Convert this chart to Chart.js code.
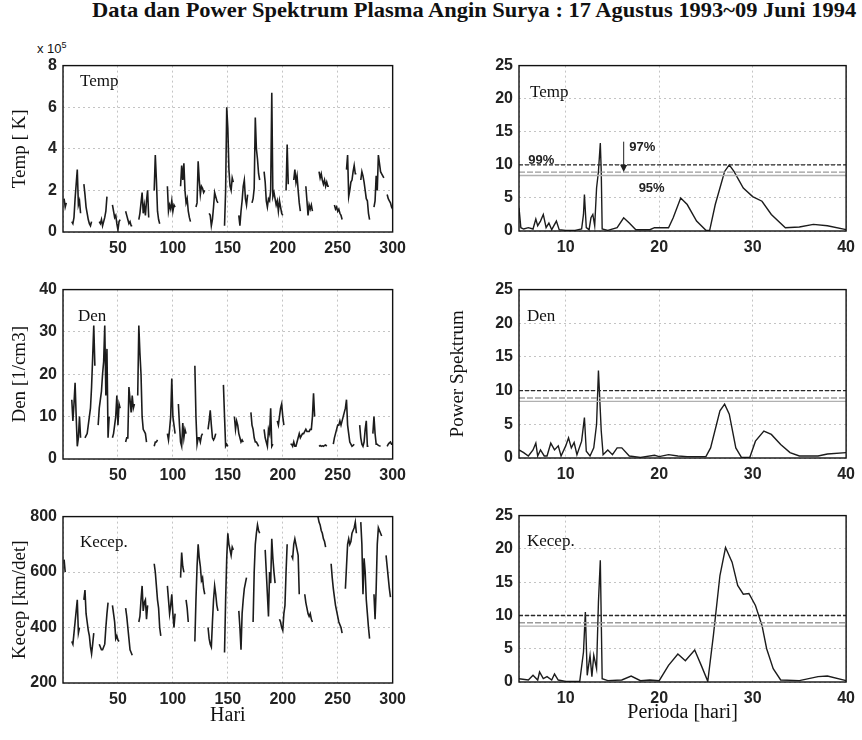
<!DOCTYPE html>
<html>
<head>
<meta charset="utf-8">
<title>Data dan Power Spektrum Plasma Angin Surya</title>
<script src="https://cdn.jsdelivr.net/npm/chart.js@4.4.1/dist/chart.umd.min.js"></script>
<style>
  body { margin: 0; background: #fff; }
  #wadah { position: relative; width: 862px; height: 740px; overflow: hidden; background: #fff; }
  canvas { position: absolute; }
  #judul {
    position: absolute; left: 92px; top: -2px; white-space: nowrap; color: #111;
    font-family: "Liberation Serif", "Times New Roman", serif; font-weight: bold; font-size: 21px;
    transform: scaleX(1.07); transform-origin: left top;
  }
  #pangkat {
    position: absolute; left: 37px; top: 40px; color: #111;
    font-family: "Liberation Sans", Arial, sans-serif; font-size: 13px;
  }
  #pangkat sup { font-size: 9px; }
</style>
</head>
<body>
<div id="wadah">
  <div id="judul">Data dan Power Spektrum Plasma Angin Surya : 17 Agustus 1993~09 Juni 1994</div>
  <div id="pangkat">x 10<sup>5</sup></div>
  <canvas id="temp-hari" width="413" height="210" style="left:0;top:50px"></canvas>
  <canvas id="den-hari" width="413" height="213" style="left:0;top:274px"></canvas>
  <canvas id="kecep-hari" width="413" height="232" style="left:0;top:501px"></canvas>
  <canvas id="temp-spektrum" width="422" height="209" style="left:440px;top:50px"></canvas>
  <canvas id="den-spektrum" width="422" height="212" style="left:440px;top:274px"></canvas>
  <canvas id="kecep-spektrum" width="422" height="232" style="left:440px;top:500px"></canvas>
</div>

<script>
// ---- data deret harian: hari awal tiap potongan + nilai harian ----
// Temp dalam satuan 10^5 K
const tempMulai = [1, 8, 19, 33, 45, 57, 69, 83, 95, 107, 121, 133, 147, 160, 172, 183, 203, 210, 221, 233, 247, 258, 271, 283, 295];
const tempNilai = [
  [1.6, 1.2, 1.4],
  [0.5, 0.4, 0.7, 1.6, 2.3, 3.0, 1.3, 1.5, 0.9],
  [2.3, 1.8, 1.2, 0.9, 0.6, 0.4, 0.3, 0.5],
  [0.5, 0.4, 0.6, 0.3, 0.5, 0.7, 1.0, 1.7],
  [1.3, 1.0, 0.7, 0.8, 0.4, 0.1, 0.5, 0.6],
  [1.0, 0.8, 0.6, 0.4, 0.5, 0.3, 0.3],
  [0.6, 0.9, 1.4, 1.9, 0.9, 1.3, 0.8, 1.5, 2.0, 0.7],
  [2.0, 3.7, 2.5, 1.0, 0.6, 0.4],
  [2.2, 1.0, 1.3, 1.1, 1.5, 1.0, 1.3, 1.2],
  [2.2, 3.2, 2.5, 3.3, 2.0, 1.4, 1.6, 1.0, 0.7, 0.5],
  [1.2, 1.4, 3.4, 2.5, 1.8, 2.2, 2.1, 1.9, 2.0],
  [0.9, 0.8, 0.3, 0.6, 1.2, 1.9, 1.7, 1.5, 1.4],
  [0.3, 2.0, 6.0, 5.0, 3.0, 2.2, 2.0, 2.6, 2.4],
  [0.8, 0.3, 1.0, 1.5, 2.2, 2.5, 1.6, 1.3, 1.8],
  [1.4, 1.6, 2.1, 5.5, 4.0, 3.5, 2.8, 2.5],
  [2.9, 2.4, 1.5, 1.2, 1.6, 1.5, 2.0, 6.7, 1.7, 1.9, 1.6, 1.3, 1.5, 1.0, 1.5, 1.2, 0.9, 0.8],
  [2.0, 4.2, 2.3],
  [2.5, 3.0, 2.4, 2.7, 2.0, 1.4, 1.0],
  [2.2, 1.5, 0.8, 1.3, 1.1, 1.3, 1.0],
  [2.9, 2.6, 2.8, 2.5, 2.3, 2.5, 2.2, 2.4, 2.2, 2.2],
  [1.3, 1.1, 1.2, 1.0, 1.1, 0.9, 0.8, 0.6],
  [3.0, 3.7, 1.7, 2.0, 2.4, 2.5, 2.9, 3.2, 2.8, 2.8],
  [2.5, 2.9, 2.7, 2.4, 2.0, 1.6, 1.5, 0.9, 0.6],
  [1.2, 1.5, 2.7, 2.0, 3.7, 3.3, 2.9, 2.8, 2.7, 2.6],
  [1.8, 1.6, 1.5, 1.4, 1.2, 1.1]
];

// Den dalam 1/cm3
const denMulai = [8, 20, 32, 45, 57, 68, 83, 95, 105, 120, 132, 146, 156, 171, 183, 195, 207, 233, 246, 270, 282, 295];
const denNilai = [
  [14, 9, 13, 18, 10, 3, 5, 10, 5],
  [5, 5.5, 6, 8, 10, 12, 17, 24, 31.5, 22],
  [8, 12, 14, 16, 20, 23, 31.5, 15, 26, 5, 10],
  [5, 6, 8, 10, 15, 8, 13, 12],
  [4, 5, 5, 17, 14, 11, 15, 12, 13],
  [15, 31.5, 25, 20, 10, 7, 6.5, 6, 4],
  [3, 4, 4, 4.5],
  [6, 4.5, 7, 10, 19, 10, 8, 6],
  [13, 8, 4, 3, 8.5, 5, 7, 6],
  [22, 10, 3.5, 5, 5, 4, 5.5, 6],
  [7, 9, 11.5, 8, 5, 4.5, 5, 6],
  [17.5, 10, 3, 3.5, 3],
  [10, 7, 9, 8, 6, 5, 4, 4.5, 4],
  [11, 8, 7, 5, 4, 4, 3.5, 3],
  [7, 5, 4, 3, 7, 6, 12, 3, 3.5],
  [9, 8, 10, 12, 13, 10, 8],
  [3.5, 3.5, 3, 4, 3, 3, 4, 5, 6, 5, 5.5, 6, 6, 6.5, 7, 6.5, 6.5, 6.5, 7, 7, 10, 15.5, 10],
  [3, 3.2, 3, 3.1, 3, 3.2, 3.3, 3],
  [3.5, 5, 6, 7, 8, 8, 9, 8, 9, 10, 11, 12, 14, 8, 6, 4, 3.5, 3, 3.2, 3.5],
  [8, 5, 3.5, 3, 4, 7, 9, 3, 3],
  [6, 10, 6, 3.5, 3.5, 3.2, 3.1, 3],
  [3, 3.5, 3.8, 4, 3.5, 3.5]
];

// Kecepatan dalam km/det
const kecepMulai = [1, 8, 19, 33, 45, 57, 69, 83, 95, 107, 112, 120, 132, 147, 160, 173, 184, 197, 208, 220, 232, 244, 257, 271, 283, 294];
const kecepNilai = [
  [645, 600],
  [350, 340, 380, 420, 460, 500, 380, 400],
  [500, 535, 450, 420, 390, 370, 330, 305, 340, 380],
  [340, 330, 320, 320, 330, 340, 400, 450, 490],
  [480, 450, 420, 360, 370, 355, 350],
  [470, 440, 400, 360, 320, 310, 300],
  [420, 440, 500, 550, 460, 490, 500, 430, 480],
  [630, 600, 550, 500, 470, 400, 370],
  [550, 500, 450, 480, 520, 450, 400, 450],
  [580, 670, 620, 600],
  [500, 470, 420],
  [350, 500, 620, 700, 650, 620, 570, 580, 540, 520],
  [400, 360, 340, 330, 420, 500, 550, 520, 480, 460],
  [310, 500, 650, 740, 700, 680, 660, 690, 680],
  [460, 400, 320, 450, 500, 540, 560, 580],
  [420, 600, 700, 740, 770, 750, 740],
  [680, 600, 520, 440, 600, 560, 720, 650, 600, 560],
  [430, 420, 400, 390, 450, 480, 600, 700],
  [660, 650, 700, 720, 700, 680, 660, 520],
  [520, 490, 470, 450, 440, 450, 430, 420],
  [800, 780, 770, 750, 740, 720, 710, 690],
  [630, 580, 540, 510, 480, 460, 440, 420, 410, 400, 380],
  [540, 620, 700, 720, 700, 710, 740, 750, 760, 780, 740],
  [780, 700, 520, 650, 600, 500, 450, 400, 360],
  [520, 430, 540, 700, 760, 750, 740, 730],
  [660, 620, 580, 540, 510]
];

// ---- power spektrum terhadap perioda [hari] ----
const periodeTemp = [5.0, 5.2, 5.5, 6.0, 6.5, 6.8, 7.0, 7.3, 7.6, 7.9, 8.2, 8.5, 9.0, 9.3, 10, 11, 11.7, 11.9, 12.0, 12.2, 12.5, 12.7, 12.9, 13.1, 13.3, 13.5, 13.7, 13.8, 13.9, 14.5, 15.5, 16.2, 16.8, 17.5, 19, 19.5, 21, 21.5, 22.3, 23, 24, 25.0, 25.4, 26, 27, 27.5, 28, 29, 30, 31, 32, 33.5, 35, 36.5, 38, 40];
const dayaTemp = [3.5, 0.5, 0.3, 0.5, 0.3, 1.8, 0.8, 1.5, 2.5, 0.5, 1.2, 0.2, 1.5, 0.2, 0.1, 0.1, 0.3, 2.5, 5.5, 0.5, 0.2, 2.0, 2.5, 0.8, 6.5, 9, 13.3, 9, 0.3, 0.1, 0.5, 2.0, 1.2, 0.2, 0.2, 0.5, 0.5, 2.0, 5.0, 4.0, 1.5, 0.1, 0.1, 4, 9, 10, 9, 6.5, 5.2, 4.5, 2.5, 0.5, 0.6, 1.0, 0.8, 0.2];

const periodeDen = [5.0, 5.5, 6.0, 6.5, 6.8, 7.0, 7.3, 7.7, 8.0, 8.4, 8.8, 9.2, 9.5, 10.0, 10.3, 10.6, 10.9, 11.2, 11.7, 12.0, 12.2, 12.6, 13.0, 13.3, 13.5, 13.8, 14.0, 14.5, 15.0, 15.5, 16.0, 16.8, 18, 19.5, 20, 21, 22, 23, 25, 25.5, 26.5, 27, 27.5, 28.2, 28.8, 29.7, 30.3, 31.2, 32, 33, 34, 35, 37, 38, 40];
const dayaDen = [1.2, 0.8, 0.3, 1.2, 2.2, 0.3, 1.2, 0.3, 0.3, 2.2, 1.2, 1.8, 0.3, 1.8, 3.0, 1.5, 2.3, 0.5, 2.5, 6.0, 1.0, 0.3, 1.5, 5.0, 13, 4.0, 0.5, 1.2, 0.5, 1.5, 1.5, 0.3, 0.1, 0.4, 0.2, 0.5, 0.3, 0.2, 0.2, 1.5, 7.0, 8.0, 6.5, 1.5, 0.1, 0.1, 2.5, 4.0, 3.5, 2.0, 0.8, 0.3, 0.3, 0.6, 0.8];

const periodeKecep = [5.0, 6.0, 6.5, 7.0, 7.2, 7.6, 8.0, 8.5, 8.8, 9.2, 10, 11.5, 11.9, 12.1, 12.3, 12.6, 12.8, 13.0, 13.3, 13.5, 13.7, 13.9, 14.5, 16, 17, 18, 19, 20, 21, 22, 22.8, 23.8, 24.5, 25.2, 25.8, 26.5, 27.1, 27.8, 28.4, 29.0, 29.6, 30.3, 31.0, 31.5, 32.2, 33, 35, 37, 38, 40];
const dayaKecep = [0.5, 0.3, 1.0, 0.3, 1.5, 0.5, 0.8, 0.3, 1.2, 0.3, 0.1, 0.1, 4.5, 10.5, 1.0, 4.0, 0.8, 4.0, 2.0, 12, 18.3, 0.5, 0.2, 0.3, 0.9, 0.2, 0.3, 0.2, 2.5, 4.2, 3.2, 4.8, 2.5, 0.1, 7, 16, 20.2, 18, 14.5, 13.2, 13.3, 11.5, 8.5, 5.0, 2.0, 0.3, 0.2, 0.8, 0.9, 0.2];

// tingkat kepercayaan
const labelPersen = ['99%', '97%', '95%'];
const batasDaya = [10.0, 8.9, 8.4];

Chart.defaults.font.family = '"Liberation Sans", Arial, sans-serif';
Chart.defaults.color = '#111';

const hurufSerif = '"Liberation Serif", "Times New Roman", serif';

function deretHarian(mulai, nilai) {
  const titik = [];
  mulai.forEach((h0, s) => {
    nilai[s].forEach((v, i) => titik.push({ x: h0 + i, y: v }));
    titik.push({ x: h0 + nilai[s].length, y: null }); // data kosong
  });
  return titik;
}

function pasangan(xs, ys) {
  return xs.map((x, i) => ({ x: x, y: ys[i] }));
}

// kotak hitam di sekeliling area plot + nama panel
const kotakPanel = {
  id: 'kotakPanel',
  afterDraw(chart, args, opts) {
    const ctx = chart.ctx;
    const a = chart.chartArea;
    ctx.save();
    ctx.strokeStyle = '#111';
    ctx.lineWidth = 1.4;
    ctx.strokeRect(a.left, a.top, a.right - a.left, a.bottom - a.top);
    if (opts.teks) {
      ctx.font = '17px ' + hurufSerif;
      ctx.fillStyle = '#111';
      ctx.textBaseline = 'alphabetic';
      ctx.fillText(opts.teks, a.left + opts.dx, a.top + opts.dy);
    }
    ctx.restore();
  }
};

// tulisan 99% / 97% / 95% dan panah pada panel spektrum Temp
const anotasiPersen = {
  id: 'anotasiPersen',
  afterDatasetsDraw(chart) {
    const ctx = chart.ctx;
    const x = chart.scales.x;
    const y = chart.scales.y;
    ctx.save();
    ctx.font = 'bold 13px "Liberation Sans", Arial, sans-serif';
    ctx.fillStyle = '#222';
    ctx.textBaseline = 'middle';
    ctx.fillText(labelPersen[0], x.getPixelForValue(6.0), y.getPixelForValue(10.6));
    ctx.fillText(labelPersen[1], x.getPixelForValue(16.8), y.getPixelForValue(12.6));
    ctx.fillText(labelPersen[2], x.getPixelForValue(17.8), y.getPixelForValue(6.5));
    const ax = x.getPixelForValue(16.2);
    const y1 = y.getPixelForValue(13.5);
    const y2 = y.getPixelForValue(batasDaya[1]);
    ctx.strokeStyle = '#222';
    ctx.lineWidth = 1;
    ctx.beginPath();
    ctx.moveTo(ax, y1);
    ctx.lineTo(ax, y2 - 5);
    ctx.stroke();
    ctx.beginPath();
    ctx.moveTo(ax - 3.5, y2 - 7);
    ctx.lineTo(ax + 3.5, y2 - 7);
    ctx.lineTo(ax, y2);
    ctx.closePath();
    ctx.fill();
    ctx.restore();
  }
};

function garisBatas(xMin, xMax) {
  const gaya = [
    { warna: '#2a2a2a', dash: [4, 2] },
    { warna: '#9a9a9a', dash: [6, 2] },
    { warna: '#b0b0b0', dash: [] }
  ];
  return batasDaya.map((b, i) => ({
    data: [{ x: xMin, y: b }, { x: xMax, y: b }],
    borderColor: gaya[i].warna,
    borderDash: gaya[i].dash,
    borderWidth: 1.4
  }));
}

function buatGrafik(id, cfg) {
  const tambahan = [kotakPanel];
  if (cfg.anotasi) tambahan.push(anotasiPersen);
  return new Chart(document.getElementById(id), {
    type: 'line',
    data: { datasets: cfg.datasets },
    options: {
      responsive: false,
      animation: false,
      layout: { padding: { top: 12, right: cfg.kanan, left: 0, bottom: 0 } },
      elements: { point: { radius: 0 }, line: { tension: 0 } },
      plugins: {
        legend: { display: false },
        tooltip: { enabled: false },
        kotakPanel: cfg.label
      },
      scales: {
        x: {
          type: 'linear',
          min: cfg.xMin,
          max: cfg.xMax,
          ticks: {
            stepSize: cfg.xStep,
            padding: 7,
            font: { size: 16, weight: 'bold' },
            color: '#222',
            callback: v => (v === cfg.xMin ? '' : v)
          },
          grid: { color: '#c4c4c4', lineWidth: 1, drawTicks: false },
          border: { display: false, dash: [2, 3] },
          title: cfg.xJudul
            ? { display: true, text: cfg.xJudul, font: { family: hurufSerif, size: 20 }, color: '#111', padding: { top: 0, bottom: cfg.xJudulPad } }
            : { display: false },
          afterFit: s => { s.height = cfg.xTinggi; }
        },
        y: {
          min: cfg.yMin,
          max: cfg.yMax,
          ticks: { stepSize: cfg.yStep, padding: 6, font: { size: 16, weight: 'bold' }, color: '#222' },
          grid: { color: '#c4c4c4', lineWidth: 1, drawTicks: false },
          border: { display: false, dash: [2, 3] },
          title: cfg.yJudul
            ? { display: true, text: cfg.yJudul, font: { family: hurufSerif, size: cfg.yJudulUkuran || 19 }, color: '#111', padding: { top: cfg.yJudulPad, bottom: 0 } }
            : { display: false },
          afterFit: s => { s.width = cfg.yLebar; }
        }
      }
    },
    plugins: tambahan
  });
}

const gayaDeret = { borderColor: '#1c1c1c', borderWidth: 1.6, spanGaps: false };
const gayaSpektrum = { borderColor: '#1c1c1c', borderWidth: 1.4 };

// kolom kiri: data harian
buatGrafik('temp-hari', {
  datasets: [Object.assign({ data: deretHarian(tempMulai, tempNilai) }, gayaDeret)],
  xMin: 0, xMax: 300, xStep: 50, xTinggi: 28,
  yMin: 0, yMax: 8, yStep: 2, yLebar: 63, yJudul: 'Temp [ K]', yJudulPad: 9,
  kanan: 16, label: { teks: 'Temp', dx: 17, dy: 20 }
});
buatGrafik('den-hari', {
  datasets: [Object.assign({ data: deretHarian(denMulai, denNilai) }, gayaDeret)],
  xMin: 0, xMax: 300, xStep: 50, xTinggi: 28,
  yMin: 0, yMax: 40, yStep: 10, yLebar: 63, yJudul: 'Den [1/cm3]', yJudulPad: 9,
  kanan: 16, label: { teks: 'Den', dx: 15, dy: 31 }
});
buatGrafik('kecep-hari', {
  datasets: [Object.assign({ data: deretHarian(kecepMulai, kecepNilai) }, gayaDeret)],
  xMin: 0, xMax: 300, xStep: 50, xTinggi: 50, xJudul: 'Hari', xJudulPad: 5,
  yMin: 200, yMax: 800, yStep: 200, yLebar: 63, yJudul: 'Kecep [km/det]', yJudulPad: 9,
  kanan: 16, label: { teks: 'Kecep.', dx: 17, dy: 30 }
});

// kolom kanan: power spektrum
buatGrafik('temp-spektrum', {
  datasets: garisBatas(5, 40).concat([Object.assign({ data: pasangan(periodeTemp, dayaTemp) }, gayaSpektrum)]),
  xMin: 5, xMax: 40, xStep: 10, xTinggi: 28,
  yMin: 0, yMax: 25, yStep: 5, yLebar: 79,
  kanan: 12, label: { teks: 'Temp', dx: 11, dy: 31 }, anotasi: true
});
buatGrafik('den-spektrum', {
  datasets: garisBatas(5, 40).concat([Object.assign({ data: pasangan(periodeDen, dayaDen) }, gayaSpektrum)]),
  xMin: 5, xMax: 40, xStep: 10, xTinggi: 28,
  yMin: 0, yMax: 25, yStep: 5, yLebar: 79, yJudul: 'Power Spektrum', yJudulUkuran: 19, yJudulPad: 7,
  kanan: 12, label: { teks: 'Den', dx: 8, dy: 31 }
});
buatGrafik('kecep-spektrum', {
  datasets: garisBatas(5, 40).concat([Object.assign({ data: pasangan(periodeKecep, dayaKecep) }, gayaSpektrum)]),
  xMin: 5, xMax: 40, xStep: 10, xTinggi: 50, xJudul: 'Perioda [hari]', xJudulPad: 7,
  yMin: 0, yMax: 25, yStep: 5, yLebar: 79,
  kanan: 12, label: { teks: 'Kecep.', dx: 8, dy: 30 }
});
</script>
</body>
</html>
